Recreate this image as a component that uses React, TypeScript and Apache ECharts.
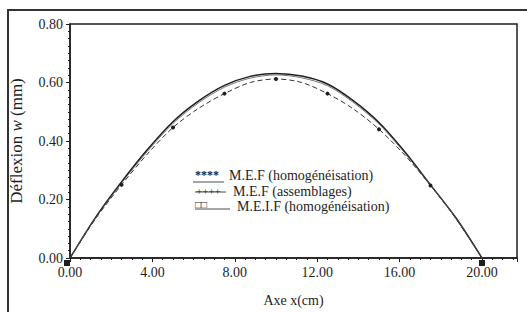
import React, { useEffect, useRef } from "react";
import * as echarts from "echarts";

const xValues = [0, 1.25, 2.5, 3.75, 5, 6.25, 7.5, 8.75, 10, 11.25, 12.5, 13.75, 15, 16.25, 17.5, 18.75, 20];
const mefHomog = [0, 0.135, 0.25, 0.355, 0.446, 0.512, 0.562, 0.6, 0.612, 0.6, 0.562, 0.51, 0.44, 0.352, 0.248, 0.133, 0];
const mefAssemb = [0, 0.14, 0.26, 0.37, 0.466, 0.537, 0.59, 0.621, 0.631, 0.622, 0.595, 0.538, 0.463, 0.363, 0.25, 0.136, 0];
const meifHomog = [0, 0.138, 0.256, 0.364, 0.46, 0.531, 0.584, 0.615, 0.626, 0.616, 0.589, 0.532, 0.458, 0.359, 0.249, 0.135, 0];
const markedX = [2.5, 5, 7.5, 10, 12.5, 15, 17.5];
const legendLabels = [
  "M.E.F (homogénéisation)",
  "M.E.F (assemblages)",
  "M.E.I.F (homogénéisation)",
];

const FONT = "Times New Roman, Liberation Serif, DejaVu Serif, serif";
const INK = "#1e1e1e";

const pairs = (ys: number[]) => xValues.map((x, i) => [x, ys[i]]);
const markedPairs = (ys: number[]) =>
  xValues.map((x, i) =>
    markedX.includes(x) ? { value: [x, ys[i]] } : { value: [x, ys[i]], symbol: "none" }
  );

export default function App() {
  const ref = useRef<HTMLDivElement>(null);
  useEffect(() => {
    if (!ref.current) return;
    const chart = echarts.init(ref.current, undefined, { renderer: "svg" });
    chart.setOption({
      animation: false,
      backgroundColor: "#fff",
      textStyle: { fontFamily: FONT },
      grid: {
        left: 67,
        right: 10,
        top: 24,
        bottom: 49,
        show: true,
        borderColor: INK,
        borderWidth: 1.5,
        backgroundColor: "transparent",
      },
      xAxis: {
        type: "value",
        min: 0,
        max: 21.7,
        interval: 4,
        name: "Axe x(cm)",
        nameLocation: "middle",
        nameGap: 35,
        nameTextStyle: { fontFamily: FONT, fontSize: 14, color: INK },
        axisLine: { show: true, lineStyle: { color: INK, width: 1.5 } },
        axisTick: { show: true, length: 4, lineStyle: { color: INK } },
        minorTick: { show: true, splitNumber: 8, length: 2, lineStyle: { color: INK } },
        splitLine: { show: false },
        axisLabel: {
          fontFamily: FONT,
          fontSize: 14,
          color: INK,
          margin: 7,
          showMaxLabel: false,
          formatter: (v: number) => v.toFixed(2),
        },
      },
      yAxis: {
        type: "value",
        min: 0,
        max: 0.8,
        interval: 0.2,
        name: "Déflexion {i|w} (mm)",
        nameLocation: "middle",
        nameGap: 45,
        nameRotate: 90,
        nameTextStyle: {
          fontFamily: FONT,
          fontSize: 17,
          color: INK,
          rich: { i: { fontFamily: FONT, fontSize: 17, fontStyle: "italic", color: INK } },
        },
        axisLine: { show: true, lineStyle: { color: INK, width: 1.5 } },
        axisTick: { show: true, length: 4, lineStyle: { color: INK } },
        minorTick: { show: true, splitNumber: 8, length: 2, lineStyle: { color: INK } },
        splitLine: { show: false },
        axisLabel: {
          fontFamily: FONT,
          fontSize: 14,
          color: INK,
          margin: 7,
          formatter: (v: number) => v.toFixed(2),
        },
      },
      series: [
        {
          name: legendLabels[0],
          type: "line",
          smooth: 0.3,
          data: markedPairs(mefHomog),
          symbol: "circle",
          symbolSize: 4,
          itemStyle: { color: INK },
          lineStyle: { color: "#333", width: 1, type: [5, 3] },
        },
        {
          name: legendLabels[1],
          type: "line",
          smooth: 0.3,
          data: pairs(mefAssemb),
          symbol: "none",
          lineStyle: { color: INK, width: 1.5 },
        },
        {
          name: legendLabels[2],
          type: "line",
          smooth: 0.3,
          data: pairs(meifHomog),
          symbol: "none",
          lineStyle: { color: "#555", width: 0.8 },
        },
      ],
      graphic: [
        {
          type: "rect",
          shape: { x: 8, y: 10, width: 540, height: 320 },
          style: { fill: "none", stroke: "#333", lineWidth: 2 },
          silent: true,
        },
        {
          type: "rect",
          shape: { x: 64, y: 260, width: 6, height: 6 },
          style: { fill: INK },
          silent: true,
        },
        {
          type: "rect",
          shape: { x: 479, y: 260, width: 6, height: 6 },
          style: { fill: INK },
          silent: true,
        },
        // legend row 1
        { type: "text", x: 195, y: 169, style: { text: "****", fontFamily: FONT, fontSize: 12, fontWeight: "bold", fill: INK } },
        { type: "line", shape: { x1: 193, y1: 182, x2: 224, y2: 182 }, style: { stroke: INK, lineWidth: 0.8 } },
        { type: "text", x: 229, y: 168, style: { text: legendLabels[0], fontFamily: FONT, fontSize: 14, fill: INK } },
        // legend row 2
        { type: "text", x: 196, y: 185, style: { text: "++++", fontFamily: FONT, fontSize: 11, fill: INK } },
        { type: "line", shape: { x1: 195, y1: 192, x2: 226, y2: 192 }, style: { stroke: INK, lineWidth: 0.8 } },
        { type: "text", x: 233, y: 184, style: { text: legendLabels[1], fontFamily: FONT, fontSize: 14, fill: INK } },
        // legend row 3
        { type: "text", x: 195, y: 199, style: { text: "□□", fontFamily: FONT, fontSize: 10, fill: INK } },
        { type: "line", shape: { x1: 195, y1: 209, x2: 230, y2: 209 }, style: { stroke: INK, lineWidth: 0.8 } },
        { type: "text", x: 237, y: 199, style: { text: legendLabels[2], fontFamily: FONT, fontSize: 14, fill: INK } },
      ],
    });
    return () => chart.dispose();
  }, []);
  return <div ref={ref} style={{ width: 527, height: 312, position: "absolute", left: 0, top: 0 }} />;
}
